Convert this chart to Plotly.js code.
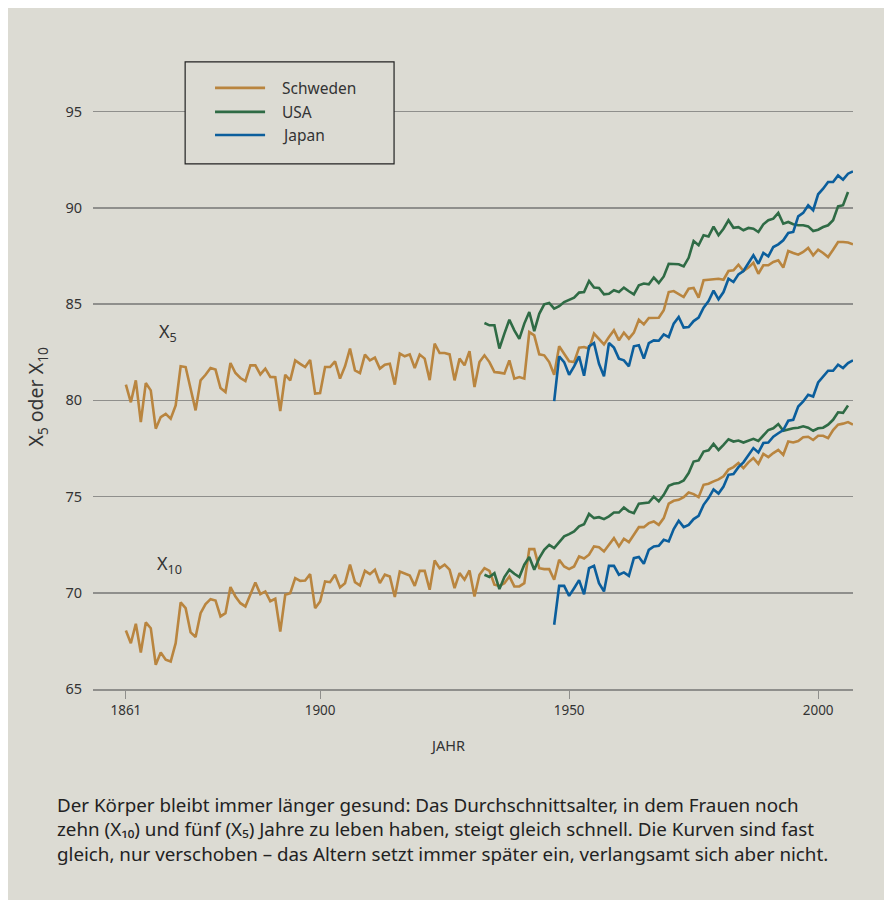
<!DOCTYPE html>
<html>
<head>
<meta charset="utf-8">
<script src="https://cdn.plot.ly/plotly-3.0.1.min.js"></script>
<style>
  html, body { margin: 0; padding: 0; background: #ffffff; }
  #wrap { position: absolute; left: 8px; top: 8px; width: 876px; height: 892px; background: #dcdbd3; }
  #chart { width: 876px; height: 892px; }
</style>
</head>
<body>
<div id="wrap"><div id="chart"></div></div>
<script>
// ---- Data ----
const swedenStart = 1861;
const usaStart = 1933;
const japanStart = 1947;

const swedenX5 = [
  80.82, 79.9, 81.04, 78.87, 80.9, 80.52, 78.53, 79.13, 79.3, 79.05,
  79.74, 81.77, 81.73, 80.6, 79.48, 81.04, 81.33, 81.68, 81.6, 80.64,
  80.43, 81.94, 81.42, 81.16, 81.0, 81.82, 81.82, 81.35, 81.65, 81.22,
  81.2, 79.45, 81.33, 81.04, 82.08, 81.9, 81.73, 82.1, 80.35, 80.38,
  81.73, 81.73, 82.03, 81.13, 81.77, 82.69, 81.56, 81.42, 82.38, 82.08,
  82.22, 81.65, 81.85, 81.9, 80.82, 82.43, 82.29, 82.39, 81.68, 82.38,
  82.17, 81.05, 82.95, 82.46, 82.46, 82.39, 81.04, 82.17, 81.82, 82.56,
  80.69, 81.99, 82.34, 81.99, 81.47, 81.44, 81.39, 82.08, 81.13, 81.21,
  81.13, 83.55, 83.38, 82.39, 82.34, 81.99, 81.33, 82.81, 82.43, 82.03,
  81.99, 82.74, 82.77, 82.69, 83.47, 83.21, 82.91, 83.29, 83.64, 83.12,
  83.52, 83.21, 83.52, 84.19, 83.95, 84.28, 84.28, 84.29, 84.68, 85.63,
  85.68, 85.54, 85.37, 85.8, 85.84, 85.34, 86.24, 86.27, 86.31, 86.32,
  86.27, 86.72, 86.76, 87.05, 86.72, 86.9, 87.15, 86.58, 87.02, 87.02,
  87.19, 87.28, 86.9, 87.76, 87.66, 87.57, 87.71, 87.92, 87.54, 87.83,
  87.66, 87.45, 87.83, 88.23, 88.23, 88.2, 88.11
];
const swedenX10 = [
  68.04, 67.38, 68.39, 66.9, 68.46, 68.16, 66.26, 66.9, 66.52, 66.43,
  67.38, 69.5, 69.2, 67.94, 67.7, 68.94, 69.41, 69.67, 69.6, 68.77,
  68.94, 70.3, 69.81, 69.46, 69.29, 69.95, 70.54, 69.93, 70.07, 69.56,
  69.69, 67.99, 69.9, 69.98, 70.76, 70.62, 70.64, 70.97, 69.2, 69.55,
  70.59, 70.55, 70.94, 70.28, 70.5, 71.46, 70.55, 70.38, 71.14, 70.97,
  71.2, 70.5, 70.94, 70.85, 69.78, 71.11, 70.99, 70.9, 70.36, 71.14,
  71.14, 70.16, 71.68, 71.28, 71.46, 71.2, 70.24, 71.02, 70.68, 71.16,
  69.81, 70.94, 71.28, 71.14, 70.42, 70.36, 70.5, 70.85, 70.33, 70.33,
  70.5, 72.27, 72.27, 71.28, 71.23, 71.23, 70.68, 71.72, 71.37, 71.23,
  71.37, 71.89, 71.78, 71.98, 72.41, 72.37, 72.15, 72.49, 72.84, 72.41,
  72.81, 72.63, 73.01, 73.41, 73.41, 73.62, 73.71, 73.53, 73.88, 74.63,
  74.78, 74.83, 74.97, 75.21, 75.13, 74.97, 75.61, 75.67, 75.79, 75.89,
  76.05, 76.4, 76.53, 76.74, 76.48, 76.78, 77.0, 76.7, 77.22, 77.05,
  77.26, 77.43, 77.17, 77.86, 77.81, 77.89, 78.08, 78.11, 77.94, 78.16,
  78.16, 78.04, 78.46, 78.74, 78.79, 78.87, 78.74
];
const usaX5 = [
  84.02, 83.9, 83.9, 82.69, 83.47, 84.19, 83.64, 83.2,
  83.99, 84.59, 83.6, 84.5, 84.99, 85.06, 84.77, 84.89, 85.11, 85.23,
  85.34, 85.6, 85.63, 86.2, 85.86, 85.84, 85.51, 85.54, 85.72, 85.63,
  85.86, 85.67, 85.51, 85.98, 86.07, 86.03, 86.38, 86.1, 86.44, 87.1,
  87.07, 87.07, 86.96, 87.41, 88.28, 88.06, 88.58, 88.52, 89.03, 88.58,
  88.92, 89.36, 88.97, 89.0, 88.84, 88.96, 88.92, 88.75, 89.15, 89.36,
  89.44, 89.74, 89.18, 89.27, 89.15, 89.1, 89.1, 89.04, 88.8, 88.87,
  89.01, 89.1, 89.36, 90.08, 90.14, 90.83
];
const usaX10 = [
  70.94, 70.82, 71.02, 70.19, 70.82, 71.2, 70.99, 70.82,
  71.46, 71.86, 71.2, 71.8, 72.23, 72.49, 72.32, 72.61, 72.93, 73.05,
  73.19, 73.45, 73.56, 74.1, 73.88, 73.93, 73.83, 73.97, 74.17, 74.17,
  74.43, 74.23, 74.14, 74.63, 74.66, 74.69, 75.0, 74.75, 75.09, 75.56,
  75.67, 75.7, 75.84, 76.22, 76.82, 76.88, 77.34, 77.4, 77.74, 77.42,
  77.69, 77.98, 77.86, 77.91, 77.81, 77.91, 78.0, 77.89, 78.2, 78.46,
  78.55, 78.77, 78.42, 78.5, 78.55, 78.58, 78.65, 78.58, 78.42, 78.55,
  78.58, 78.74, 78.99, 79.38, 79.35, 79.73
];
const japanX5 = [
  79.96, 82.29, 81.99, 81.33,
  81.77, 82.29, 81.28, 82.81, 82.98, 81.9, 81.25, 82.98, 82.74, 82.17,
  82.08, 81.77, 82.81, 82.86, 82.17, 82.98, 83.12, 83.1, 83.43, 83.29,
  83.99, 84.33, 83.78, 83.81, 84.12, 84.3, 84.82, 85.16, 85.7, 85.25,
  85.63, 86.32, 86.15, 86.55, 86.72, 87.1, 87.54, 87.1, 87.66, 87.48,
  87.97, 88.11, 88.32, 88.7, 88.75, 89.56, 89.74, 90.14, 89.88, 90.71,
  91.0, 91.35, 91.35, 91.69, 91.47, 91.78, 91.9
];
const japanX10 = [
  68.34, 70.36, 70.36, 69.84,
  70.24, 70.66, 69.92, 71.28, 71.4, 70.5, 70.07, 71.4, 71.4, 70.94,
  71.06, 70.88, 71.8, 71.86, 71.51, 72.23, 72.41, 72.44, 72.75, 72.67,
  73.31, 73.74, 73.41, 73.53, 73.83, 74.0, 74.57, 74.92, 75.37, 75.16,
  75.52, 76.13, 76.17, 76.53, 76.78, 77.17, 77.52, 77.29, 77.78, 77.81,
  78.11, 78.29, 78.46, 78.94, 78.99, 79.68, 79.94, 80.29, 80.2, 80.93,
  81.21, 81.54, 81.54, 81.85, 81.68, 81.94, 82.08
];

const seriesNames = ['Schweden', 'USA', 'Japan'];
const tickYears = [1861, 1900, 1950, 2000];
const tickLabels = ['1861', '1900', '1950', '2000'];
const yTicks = [65, 70, 75, 80, 85, 90, 95];
const captionLines = [
  'Der Körper bleibt immer länger gesund: Das Durchschnittsalter, in dem Frauen noch',
  'zehn (X₁₀) und fünf (X₅) Jahre zu leben haben, steigt gleich schnell. Die Kurven sind fast',
  'gleich, nur verschoben – das Altern setzt immer später ein, verlangsamt sich aber nicht.'
];

function yearsFrom(start, n) { const a = []; for (let i = 0; i < n; i++) a.push(start + i); return a; }

const colors = { Schweden: '#b9853f', USA: '#2f6b45', Japan: '#0b5e9c' };
const textColor = '#333333';
const gridColor = '#8f8f8c';
const fontFam = '"Noto Sans", "Open Sans", sans-serif';
const bg = '#dcdbd3';

const defs = [
  { name: seriesNames[0], start: swedenStart, x5: swedenX5, x10: swedenX10 },
  { name: seriesNames[1], start: usaStart, x5: usaX5, x10: usaX10 },
  { name: seriesNames[2], start: japanStart, x5: japanX5, x10: japanX10 }
];

const traces = [];
defs.forEach(d => {
  traces.push({
    type: 'scatter', mode: 'lines', name: d.name, legendgroup: d.name,
    x: yearsFrom(d.start, d.x5.length), y: d.x5,
    line: { color: colors[d.name], width: 2.6 }, showlegend: false
  });
  traces.push({
    type: 'scatter', mode: 'lines', name: d.name, legendgroup: d.name,
    x: yearsFrom(d.start, d.x10.length), y: d.x10,
    line: { color: colors[d.name], width: 2.6 }, showlegend: false
  });
});

// Legend box + entries (drawn in axis units so they sit inside the framed box)
const legendRowsY = [96.24, 94.99, 93.79];
const shapes = [
  { type: 'rect', xref: 'x', yref: 'y', x0: 1872.9, x1: 1914.85, y0: 92.29, y1: 97.59,
    fillcolor: bg, line: { color: '#222222', width: 1.2 }, layer: 'above' }
];
const annotations = [];
seriesNames.forEach((n, i) => {
  shapes.push({ type: 'line', xref: 'x', yref: 'y', x0: 1878.9, x1: 1888.95,
    y0: legendRowsY[i], y1: legendRowsY[i], line: { color: colors[n], width: 2.6 }, layer: 'above' });
  annotations.push({ xref: 'x', yref: 'y', x: 1891.95, y: legendRowsY[i], xanchor: 'left', yanchor: 'middle',
    text: n, showarrow: false, font: { size: 15.5, color: textColor } });
});

annotations.push(
  { xref: 'x', yref: 'y', x: 1869.5, y: 83.55, text: 'X<sub>5</sub>', showarrow: false,
    font: { size: 18, color: textColor } },
  { xref: 'x', yref: 'y', x: 1869.8, y: 71.45, text: 'X<sub>10</sub>', showarrow: false,
    font: { size: 18, color: textColor } },
  { xref: 'x', yref: 'paper', x: 1925.5, y: -0.0882, yanchor: 'middle', text: 'JAHR', showarrow: false,
    font: { size: 14.5, color: textColor } },
  { xref: 'paper', yref: 'y', x: -0.0737, y: 80.2, textangle: -90, xanchor: 'center', yanchor: 'middle',
    text: 'X<sub>5</sub> oder X<sub>10</sub>', showarrow: false, font: { size: 19.5, color: textColor } },
  { xref: 'paper', yref: 'paper', x: -0.05, xanchor: 'left', y: -0.222, yanchor: 'middle',
    align: 'left', showarrow: false, text: captionLines.join('<br>'), font: { size: 18.8, color: '#222222' } }
);

const layout = {
  width: 876, height: 892,
  paper_bgcolor: bg, plot_bgcolor: bg,
  margin: { l: 85, r: 31, t: 46, b: 211 },
  font: { family: fontFam, color: textColor, size: 13 },
  showlegend: false,
  xaxis: {
    range: [1854.4, 2007], showgrid: false, zeroline: false,
    tickmode: 'array', tickvals: tickYears, ticktext: tickLabels,
    ticks: 'outside', ticklen: 8, tickcolor: gridColor, tickwidth: 1.2,
    showline: true, linecolor: gridColor, linewidth: 1.5,
    tickfont: { size: 13.5, color: textColor }
  },
  yaxis: {
    range: [65, 98], showgrid: true, gridcolor: gridColor, gridwidth: 1.5,
    zeroline: false, showline: false, ticks: '',
    tickmode: 'array', tickvals: yTicks,
    tickfont: { size: 14.5, color: textColor }, ticklabelstandoff: 10
  },
  shapes: shapes,
  annotations: annotations
};

Plotly.newPlot('chart', traces, layout, { displayModeBar: false, staticPlot: true });
</script>
</body>
</html>
